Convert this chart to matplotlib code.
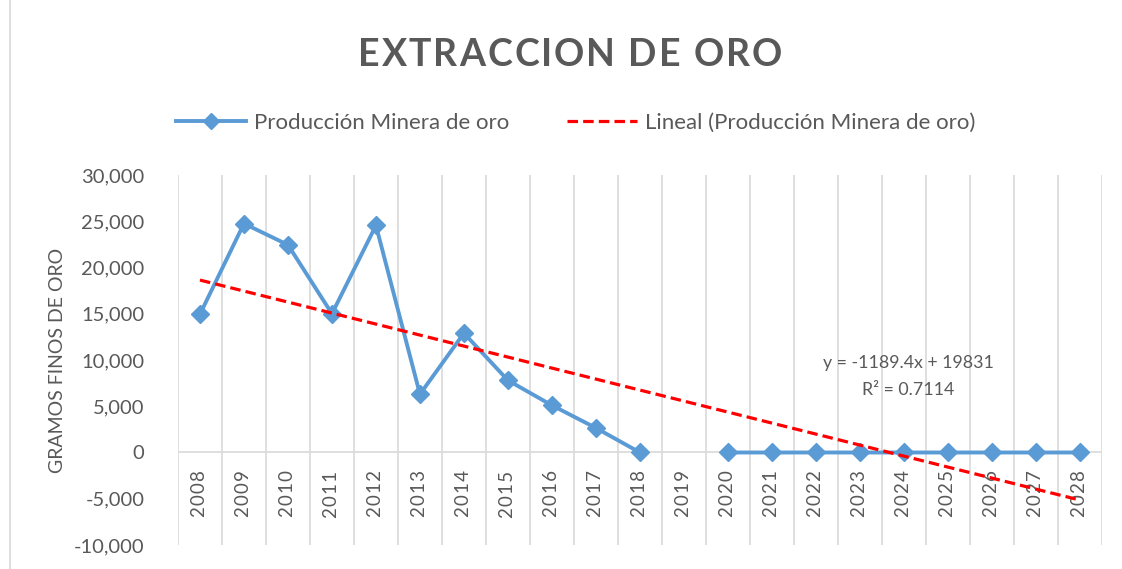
import matplotlib
matplotlib.use("Agg")
from matplotlib import pyplot as plt
from matplotlib.lines import Line2D
from matplotlib.transforms import offset_copy
import numpy as np

plt.rcParams['font.family'] = ['Lato', 'DejaVu Sans']

years = [str(y) for y in range(2008, 2029)]
produccion = [14950, 24750, 22450, 15000, 24550, 6300, 12900, 7800, 5100, 2650, 0,
              np.nan, 0, 0, 0, 0, 0, 0, 0, 0, 0]
trend_slope = -1189.4
trend_intercept = 19831
r2 = 0.7114

gray = "#595959"
blue = "#5B9BD5"
red = "#FF0000"
grid = "#D9D9D9"
HS = "\u200a"  # hair space, used to mimic Excel letter spacing


def spaced_title(fig, xc, yc, s, gap_px, **kw):
    # draw one char at a time so the title gets extra tracking
    r = fig.canvas.get_renderer()
    widths = []
    for ch in s:
        t = fig.text(0, 0, ch, **kw)
        widths.append(t.get_window_extent(r).width if ch != " " else None)
        t.remove()
    sp = fig.text(0, 0, "A A", **kw)
    aa = fig.text(0, 0, "AA", **kw)
    space_w = sp.get_window_extent(r).width - aa.get_window_extent(r).width
    sp.remove()
    aa.remove()
    widths = [w if w is not None else space_w for w in widths]
    total = sum(widths) + gap_px * (len(s) - 1)
    W = fig.bbox.width
    x = xc * W - total / 2
    for ch, w in zip(s, widths):
        if ch != " ":
            fig.text(x / W, yc, ch, ha='left', va='center', **kw)
        x += w + gap_px


fig = plt.figure(figsize=(11.22, 5.69), dpi=100)
ax = fig.add_axes([0.1586, 0.0422, 0.8235, 0.6502])

x = np.arange(len(years))
ax.plot(x, produccion, color=blue, linewidth=2.8, marker='D', markersize=9,
        zorder=3)
trend_x = np.array([x[0], x[-1]])
trend_y = trend_slope * (trend_x + 1) + trend_intercept
ax.plot(trend_x, trend_y, color=red, linewidth=2.3, linestyle=(0, (3.3, 1.6)),
        zorder=4)

ax.set_xlim(-0.5, len(years) - 0.5)
ax.set_ylim(-10000, 30000)
for b in np.arange(-0.5, len(years), 1.0):
    ax.axvline(b, color=grid, linewidth=1.2, zorder=1)
ax.axhline(0, color=grid, linewidth=1.2, zorder=1)
for s in ['top', 'right', 'left', 'bottom']:
    ax.spines[s].set_visible(False)

ax.set_xticks([])
lab_tr = offset_copy(ax.transData, fig=fig, y=-18, units='dots')
for i, yr in enumerate(years):
    ax.text(i, 0, HS.join(yr), transform=lab_tr, rotation=90, ha='center',
            va='top', fontsize=13.5, color=gray)

ax.set_yticks(np.arange(-10000, 30001, 5000))
ax.set_yticklabels([f"{v:,}" for v in range(-10000, 30001, 5000)], fontsize=14.5,
                   color=gray)
ax.tick_params(axis='both', length=0)
ax.tick_params(axis='y', pad=24)
ax.set_ylabel("GRAMOS FINOS DE ORO", fontsize=14, color=gray, labelpad=6)

ax.text(16.1, 8200, f"y = {trend_slope}x + {trend_intercept}\nR² = {r2}",
        ha='center', va='center', fontsize=12.8, color=gray, linespacing=1.8)

spaced_title(fig, 0.508, 0.903, "EXTRACCION DE ORO", 2.0,
             fontsize=27, fontweight='bold', color=gray)

handles = [Line2D([], [], color=blue, linewidth=2.8, marker='D', markersize=8),
           Line2D([], [], color=red, linewidth=2.3, linestyle=(0, (3.3, 1.6)))]
fig.legend(handles, ["Producción Minera de oro", "Lineal (Producción Minera de oro)"],
           loc='center', bbox_to_anchor=(0.513, 0.784), ncol=2, frameon=False,
           fontsize=16, labelcolor=gray, handlelength=3.15, columnspacing=2.6,
           handletextpad=0.35)

fig.add_artist(Line2D([0.009, 0.009], [0, 1], color=grid, linewidth=1.2,
                      transform=fig.transFigure))

fig.savefig("out.png", dpi=100)
